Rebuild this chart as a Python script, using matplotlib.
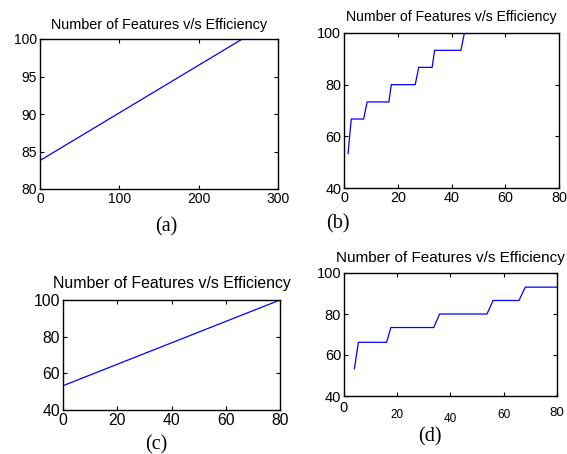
import matplotlib
matplotlib.use("Agg")
import matplotlib.pyplot as plt

W, H = 567, 454

# Data
title = "Number of Features v/s Efficiency"
a_x = [0, 255]
a_y = [83.8, 100]

b_x = [1.5, 2.7, 7.3, 8.6, 16.7, 17.6, 26.5, 27.8, 32.8, 33.7, 43.5, 44.8, 80]
b_y = [53.3, 66.7, 66.7, 73.3, 73.3, 80.0, 80.0, 86.7, 86.7, 93.3, 93.3, 100, 100]

c_x = [0.6, 80]
c_y = [53.6, 100]

d_x = [3.9, 5.4, 16.0, 17.6, 33.7, 35.9, 53.7, 56.0, 65.7, 68.1, 80]
d_y = [53.3, 66.2, 66.2, 73.4, 73.4, 80.0, 80.0, 86.6, 86.6, 93.1, 93.1]

a_xticks = [0, 100, 200, 300]
a_yticks = [80, 85, 90, 95, 100]
b_xticks = [0, 20, 40, 60, 80]
b_yticks = [40, 60, 80, 100]
c_xticks = [0, 20, 40, 60, 80]
c_yticks = [40, 60, 80, 100]
d_xticks = [0, 20, 40, 60, 80]
d_yticks = [40, 60, 80, 100]

captions = ["(a)", "(b)", "(c)", "(d)"]

fig = plt.figure(figsize=(W / 100, H / 100), dpi=100)
plt.rcParams['font.family'] = ['Liberation Sans', 'DejaVu Sans']


def axbox(left, right, top, bottom):
    return [left / W, (H - bottom) / H, (right - left) / W, (bottom - top) / H]


def style(ax, xt, yt, xlim, ylim, ls):
    ax.set_xlim(*xlim)
    ax.set_ylim(*ylim)
    ax.set_xticks(xt)
    ax.set_yticks(yt)
    ax.tick_params(direction='in', length=3, width=0.8, top=True, right=True,
                   labelsize=ls, pad=2)
    for s in ax.spines.values():
        s.set_linewidth(1.0)


line_kw = dict(color='#0000ff', lw=0.9)

ax_a = fig.add_axes(axbox(40, 278, 39, 189))
ax_a.plot(a_x, a_y, **line_kw)
style(ax_a, a_xticks, a_yticks, (0, 300), (80, 100), 10)
ax_a.set_title(title, fontsize=10.4, pad=7)

ax_b = fig.add_axes(axbox(344, 559, 33, 188))
ax_b.plot(b_x, b_y, **line_kw)
style(ax_b, b_xticks, b_yticks, (0, 80), (40, 100), 10.4)
ax_b.set_title(title, fontsize=10.1, pad=9)

ax_c = fig.add_axes(axbox(63, 280, 300, 410))
ax_c.plot(c_x, c_y, **line_kw)
style(ax_c, c_xticks, c_yticks, (0, 80), (40, 100), 11.3)
ax_c.set_title(title, fontsize=11.4, pad=8.5)

ax_d = fig.add_axes(axbox(344, 557, 273, 396))
ax_d.plot(d_x, d_y, **line_kw)
style(ax_d, d_xticks, d_yticks, (0, 80), (40, 100), 10.5)
ax_d.set_title(title, fontsize=11.0, pad=8)
# scanned panel (d): irregular x tick label sizes / offsets
d_lab_size = [10.5, 8.5, 8.5, 8.5, 9.5]
d_lab_pad = [3.5, 9, 12, 9, 8]
for tk, sz, pd in zip(ax_d.xaxis.get_major_ticks(), d_lab_size, d_lab_pad):
    tk.set_pad(pd)
    tk.label1.set_fontsize(sz)

cap_pos = [(166, 227), (338, 224), (156, 445), (430, 437)]
for cap, (x, y) in zip(captions, cap_pos):
    fig.text(x / W, (H - y) / H, cap, ha='center', va='center',
             family=['Liberation Serif', 'DejaVu Serif'], fontsize=14.5)

fig.savefig("out.png", dpi=100)
